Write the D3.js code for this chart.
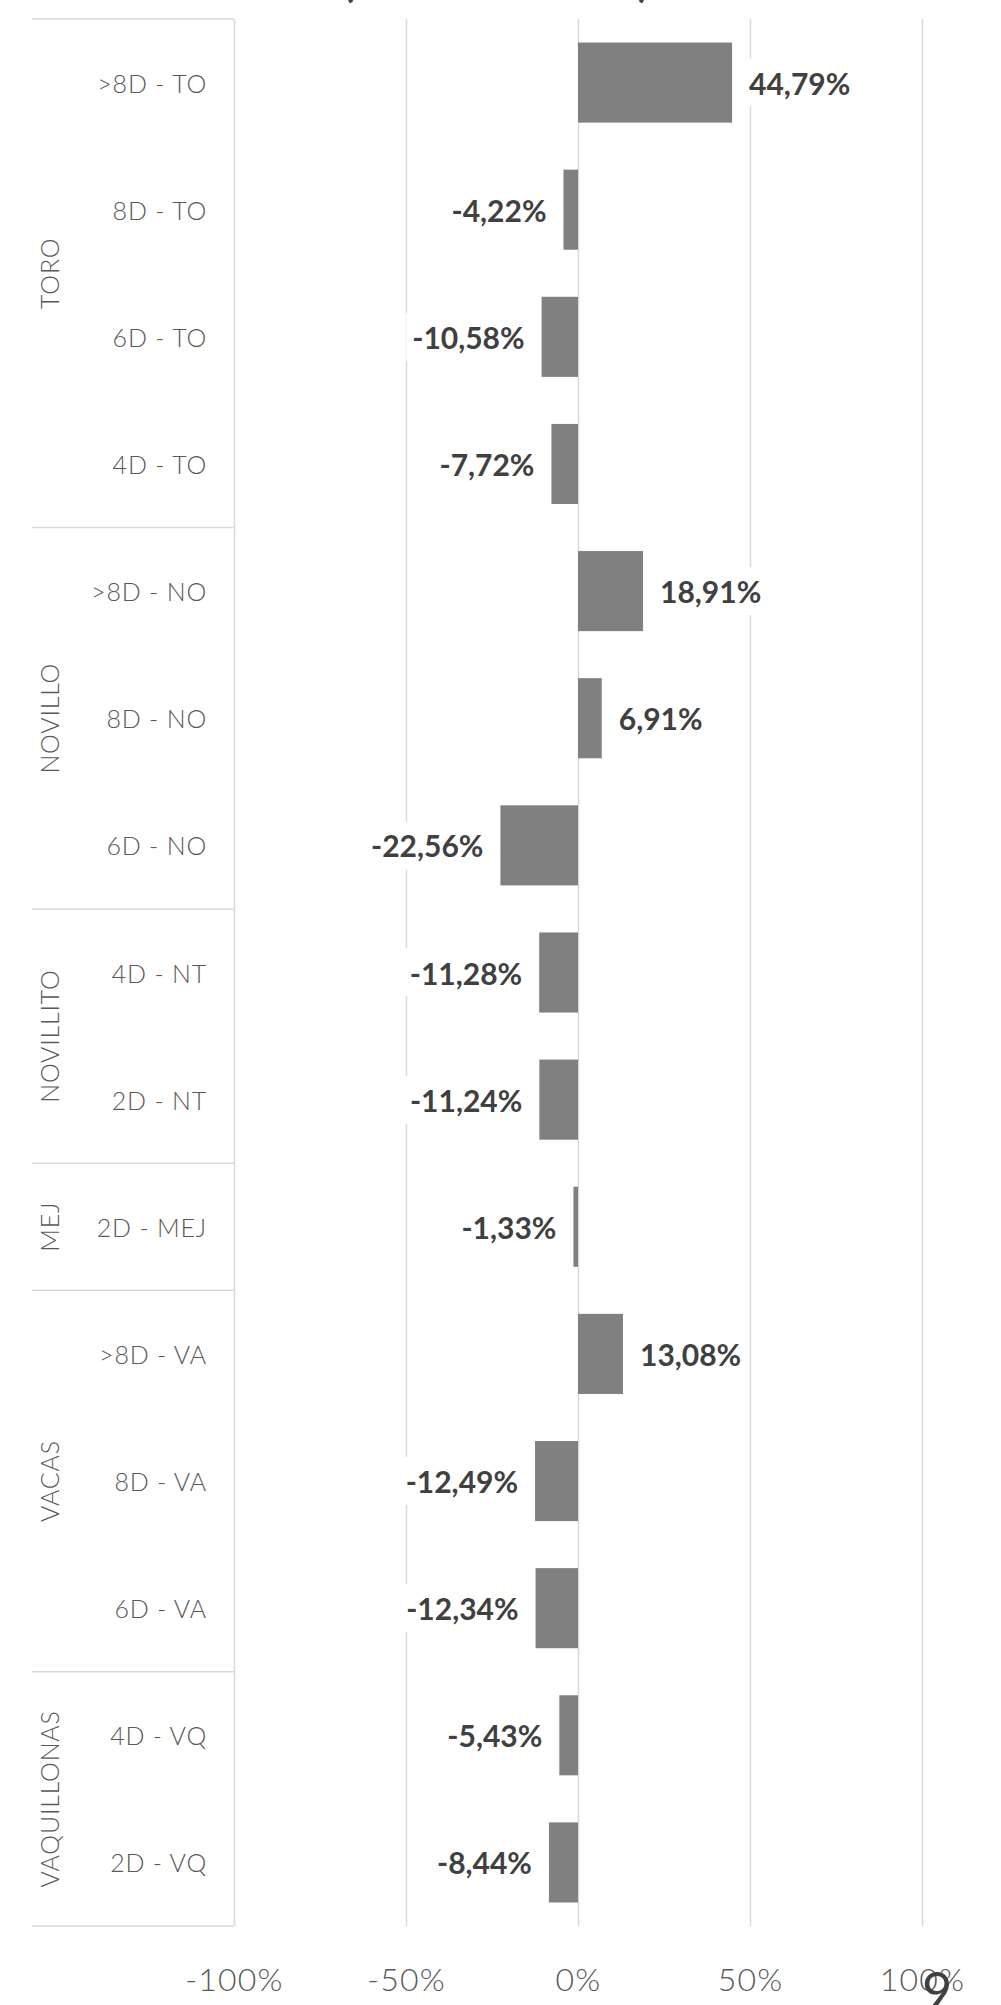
<!DOCTYPE html>
<html>
<head>
<meta charset="utf-8">
<script src="https://cdn.jsdelivr.net/npm/d3@7"></script>
<style>
  html, body { margin: 0; padding: 0; background: #ffffff; }
  svg { display: block; }
</style>
</head>
<body>
<svg id="chart" width="1001" height="2005"></svg>
<script>
// ---- data ----
const categories = [
  ">8D - TO", "8D - TO", "6D - TO", "4D - TO",
  ">8D - NO", "8D - NO", "6D - NO",
  "4D - NT", "2D - NT",
  "2D - MEJ",
  ">8D - VA", "8D - VA", "6D - VA",
  "4D - VQ", "2D - VQ"
];
const values = [
  44.79, -4.22, -10.58, -7.72,
  18.91, 6.91, -22.56,
  -11.28, -11.24,
  -1.33,
  13.08, -12.49, -12.34,
  -5.43, -8.44
];
const groupNames = ["TORO", "NOVILLO", "NOVILLITO", "MEJ", "VACAS", "VAQUILLONAS"];
const groupSizes = [4, 3, 2, 1, 3, 2];
const tickValues = [-1, -0.5, 0, 0.5, 1];
const tickLabels = ["-100%", "-50%", "0%", "50%", "100%"];
const pageNumber = "9";

// ---- setup ----
const svg = d3.select("#chart");
const FONT = "Lato, 'Open Sans', sans-serif";
const gridColor = "#d9d9d9";

const x = d3.scaleLinear().domain([-1, 1]).range([234, 922]);
const y = d3.scaleBand().domain(categories).range([19, 1926])
  .paddingInner(0.37).paddingOuter(0.185);
const step = y.step();
const boxLeft = 32;

const locale = d3.formatLocale({decimal: ",", thousands: ".", grouping: [3], currency: ["", "%"], minus: "-"});
const fmt = locale.format(".2f");

// cropped title remnants at the very top
svg.append("text").attr("x", 343).attr("y", -3)
  .attr("font-family", FONT).attr("font-weight", 700).attr("font-size", 40)
  .attr("fill", "#404040").text("(");
svg.append("text").attr("x", 638).attr("y", -3)
  .attr("font-family", FONT).attr("font-weight", 700).attr("font-size", 40)
  .attr("fill", "#404040").text(")");

// ---- gridlines via axis ----
const gridAxis = d3.axisBottom(x).tickValues(tickValues)
  .tickSize(-(1926 - 19)).tickFormat("");
const grid = svg.append("g").attr("transform", "translate(0,1926)").call(gridAxis);
grid.select(".domain").remove();
grid.selectAll("line").attr("stroke", gridColor).attr("stroke-width", 1.5);

// ---- left category box ----
let cum = 0;
const bounds = [0];
groupSizes.forEach(s => { cum += s; bounds.push(cum); });
const boundaryY = i => y.range()[0] + i * step;
svg.append("g").selectAll("line").data(bounds).join("line")
  .attr("x1", boxLeft).attr("x2", x(-1))
  .attr("y1", d => boundaryY(d)).attr("y2", d => boundaryY(d))
  .attr("stroke", gridColor).attr("stroke-width", 1.5);

// group labels (rotated)
svg.append("g").selectAll("text").data(groupNames).join("text")
  .attr("transform", (d, i) => {
    const cy = (boundaryY(bounds[i]) + boundaryY(bounds[i + 1])) / 2;
    return `translate(49,${cy}) rotate(-90)`;
  })
  .attr("text-anchor", "middle").attr("dominant-baseline", "central")
  .attr("font-family", FONT).attr("font-size", 25).attr("font-weight", 300)
  .attr("fill", "#595959").attr("letter-spacing", 0.8)
  .text(d => d);

// category labels
svg.append("g").selectAll("text").data(categories).join("text")
  .attr("x", 207).attr("y", d => y(d) + y.bandwidth() / 2)
  .attr("text-anchor", "end").attr("dominant-baseline", "central")
  .attr("font-family", FONT).attr("font-size", 25).attr("font-weight", 300)
  .attr("fill", "#595959").attr("letter-spacing", 0.8)
  .text(d => d);

// ---- bars ----
const rows = categories.map((c, i) => ({c, v: values[i]}));
svg.append("g").selectAll("rect").data(rows).join("rect")
  .attr("x", d => x(Math.min(0, d.v / 100)))
  .attr("width", d => Math.abs(x(d.v / 100) - x(0)))
  .attr("y", d => y(d.c)).attr("height", y.bandwidth())
  .attr("fill", "#808080");

// ---- data labels with white background ----
const lab = svg.append("g");
rows.forEach(d => {
  const pos = d.v >= 0;
  const lx = pos ? x(d.v / 100) + 17 : x(d.v / 100) - 17;
  const cy = y(d.c) + y.bandwidth() / 2;
  const bg = lab.append("rect").attr("fill", "#ffffff");
  const t = lab.append("text")
    .attr("x", lx).attr("y", cy)
    .attr("text-anchor", pos ? "start" : "end").attr("dominant-baseline", "central")
    .attr("font-family", FONT).attr("font-size", 30).attr("font-weight", 700)
    .attr("fill", "#404040")
    .text(fmt(d.v) + "%");
  const bb = t.node().getBBox();
  bg.attr("x", bb.x - 6).attr("y", cy - 24).attr("width", bb.width + 12).attr("height", 48);
});

// ---- x axis tick labels ----
const xAxis = d3.axisBottom(x).tickValues(tickValues)
  .tickSize(0).tickPadding(0)
  .tickFormat((d, i) => tickLabels[i]);
const ax = svg.append("g").attr("transform", "translate(0,1978)").call(xAxis);
ax.select(".domain").remove();
ax.selectAll("text")
  .attr("dy", null).attr("y", 0).attr("dominant-baseline", "central")
  .attr("font-family", FONT).attr("font-size", 32).attr("font-weight", 300)
  .attr("fill", "#595959").attr("letter-spacing", 1.2);

// page number
svg.append("text").attr("x", 937).attr("y", 2010)
  .attr("text-anchor", "middle")
  .attr("font-family", FONT).attr("font-size", 52).attr("font-weight", 400)
  .attr("fill", "#404040").text(pageNumber);
</script>
</body>
</html>
